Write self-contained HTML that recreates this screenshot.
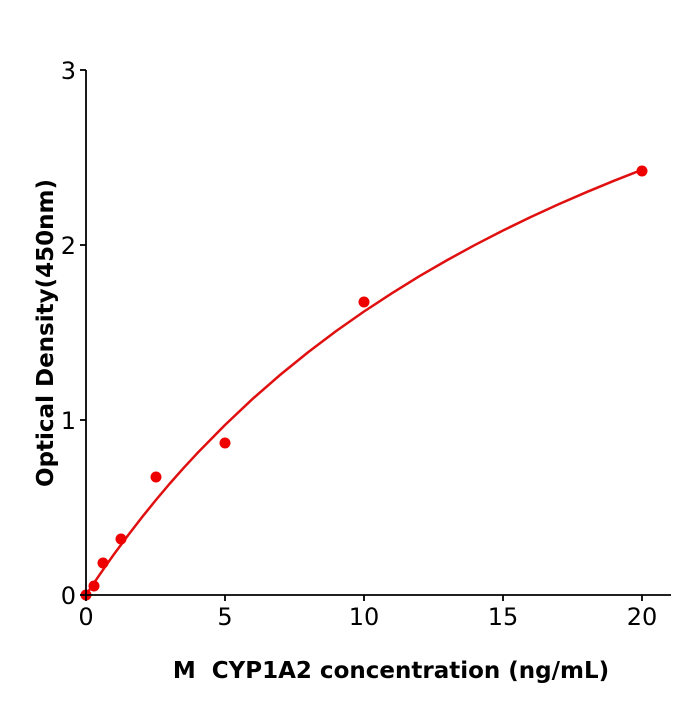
<!DOCTYPE html>
<html><head><style>body{margin:0;background:#fff}</style></head><body>
<svg width="700" height="700" xmlns="http://www.w3.org/2000/svg" font-family="DejaVu Sans, sans-serif">
<rect width="700" height="700" fill="#fff"/>
<polyline fill="none" stroke="#e01010" stroke-width="2.5" stroke-linejoin="round" points="86,595 92.95,584.4 99.9,574.3 106.85,564.3 113.8,554.5 127.7,535.8 141.6,517.7 155.5,500.5 169.4,484 183.3,468.3 197.2,453.3 225,425 252.8,398.7 280.6,374.5 308.4,352 336.2,331 364,311.5 391.8,293.3 419.6,276.1 447.4,260 475.2,244.8 503,230.5 530.8,217 558.6,204.3 586.4,192.2 614.2,180.7 642,169.8"/>
<g fill="#ee0000">
<circle cx="86" cy="595" r="5.5"/><circle cx="94" cy="586" r="5.5"/><circle cx="103" cy="563" r="5.5"/><circle cx="121" cy="539" r="5.5"/><circle cx="156" cy="477" r="5.5"/><circle cx="225" cy="443" r="5.5"/><circle cx="364" cy="302" r="5.5"/><circle cx="642" cy="171" r="5.5"/>
</g>
<g stroke="#000" stroke-width="1.8">
<line x1="86" y1="70" x2="86" y2="596"/>
<line x1="85" y1="595" x2="671" y2="595"/>
<line x1="80" y1="595" x2="86" y2="595"/><line x1="80" y1="420" x2="86" y2="420"/><line x1="80" y1="245" x2="86" y2="245"/><line x1="80" y1="70" x2="86" y2="70"/>
<line x1="86" y1="595" x2="86" y2="601"/><line x1="225" y1="595" x2="225" y2="601"/><line x1="364" y1="595" x2="364" y2="601"/><line x1="503" y1="595" x2="503" y2="601"/><line x1="642" y1="595" x2="642" y2="601"/>
</g>
<g font-size="24" text-anchor="end">
<text x="76" y="604">0</text><text x="76" y="429">1</text><text x="76" y="254">2</text><text x="76" y="79">3</text>
</g>
<g font-size="24" text-anchor="middle">
<text x="86" y="625">0</text><text x="225" y="625">5</text><text x="364" y="625">10</text><text x="503" y="625">15</text><text x="642" y="625">20</text>
</g>
<text x="391" y="678" font-size="23" font-weight="bold" text-anchor="middle" xml:space="preserve" style="white-space:pre">M  CYP1A2 concentration (ng/mL)</text>
<text transform="translate(53,333) rotate(-90)" font-size="23" font-weight="bold" text-anchor="middle">Optical Density(450nm)</text>
</svg>
</body></html>
